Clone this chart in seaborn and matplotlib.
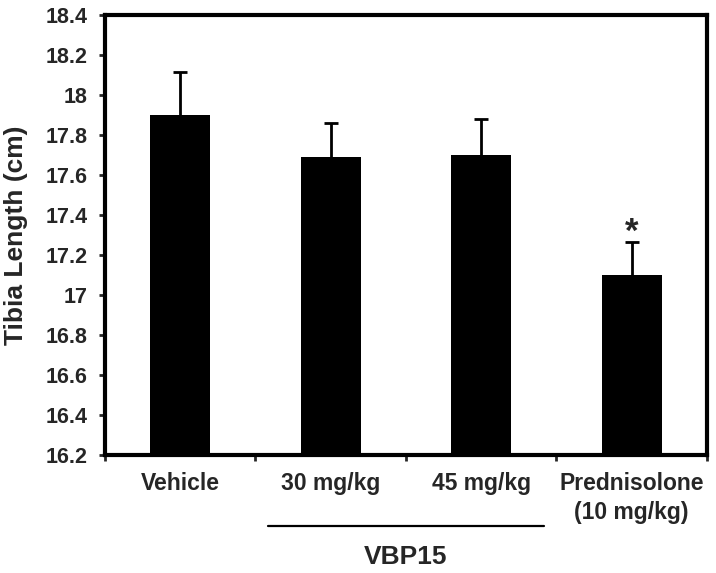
import matplotlib
matplotlib.use('Agg')
import matplotlib.pyplot as plt
import matplotlib.transforms as mtransforms
import numpy as np
import seaborn as sns

sns.set_style('ticks')
plt.rcParams['font.family'] = ['Liberation Sans', 'DejaVu Sans']
plt.rcParams['font.weight'] = 'bold'

# values
groups = ['Vehicle', '30 mg/kg', '45 mg/kg', 'Prednisolone\n(10 mg/kg)']
means = [17.90, 17.69, 17.70, 17.10]
errs = [0.215, 0.17, 0.18, 0.165]
signif = ['', '', '', '*']
yticks = [16.2, 16.4, 16.6, 16.8, 17.0, 17.2, 17.4, 17.6, 17.8, 18.0, 18.2, 18.4]
bracket_groups = ['30 mg/kg', '45 mg/kg']
bracket_label = 'VBP15'

fig = plt.figure(figsize=(7.16, 5.73), dpi=100)
ax = fig.add_axes([0.1466, 0.2059, 0.8408, 0.7679])

sns.barplot(x=groups, y=means, color='black', width=0.4, errorbar=None,
            saturation=1, linewidth=0, ax=ax)
x = np.arange(len(groups))
eb = ax.errorbar(x, means, yerr=[np.zeros(len(errs)), errs], fmt='none',
                 ecolor='black', elinewidth=2, capsize=5, capthick=2)
# only the upper caps, the lower one would sit on top of the bar
for cap in eb[1]:
    if np.allclose(cap.get_ydata(), means):
        cap.set_visible(False)

for xi, m, e, s in zip(x, means, errs, signif):
    if s:
        ax.text(xi, m + e, s, ha='center', va='baseline', fontsize=25,
                fontweight='bold')

ax.set_ylim(yticks[0], yticks[-1])
ax.set_xlim(-0.5, len(groups) - 0.5)
ax.set_yticks(yticks)
ax.set_yticklabels([f'{v:g}' for v in yticks])
ax.set_ylabel('Tibia Length (cm)', fontsize=19, fontweight='bold')
ax.yaxis.set_label_coords(-0.128, 0.5)
ax.set_xlabel('')

# ticks between categories like excel does
ax.set_xticks(np.arange(-0.5, len(groups)), minor=True)
ax.tick_params(axis='x', which='major', length=0, pad=12, labelsize=16.5)
ax.tick_params(axis='x', which='minor', length=4, width=2, direction='out')
ax.tick_params(axis='y', length=4, width=2, pad=8.5, labelsize=15.5)
for lbl in ax.get_xticklabels():
    lbl.set_linespacing(1.35)

for sp in ax.spines.values():
    sp.set_visible(True)
    sp.set_linewidth(3)
    sp.set_color('black')

# group bracket under the x labels
i0 = groups.index(bracket_groups[0])
i1 = groups.index(bracket_groups[-1])
trans = mtransforms.blended_transform_factory(ax.transData, ax.transAxes)
ax.plot([i0 - 0.42, i1 + 0.42], [-0.161, -0.161], color='black', lw=1.6,
        transform=trans, clip_on=False)
ax.text((i0 + i1) / 2, -0.232, bracket_label, transform=trans, ha='center',
        va='center', fontsize=19, fontweight='bold')

fig.savefig('out.png', dpi=100, facecolor='white')
